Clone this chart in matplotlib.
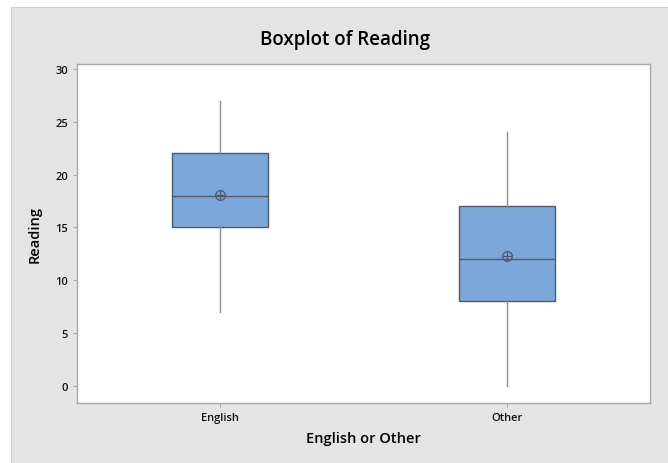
import matplotlib.pyplot as plt
from matplotlib.patches import Rectangle

# data
groups = ["English", "Other"]
whisker_low = [7, 0]
q1 = [15, 8]
medians = [18, 12]
q3 = [22, 17]
whisker_high = [27, 24]
means = [18.05, 12.25]

plt.rcParams['font.family'] = ['Open Sans', 'DejaVu Sans']

fig = plt.figure(figsize=(6.68, 4.64), dpi=100)
fig.patch.set_facecolor('white')
# gray panel behind the chart (runs off the right and bottom edges)
fig.patches.append(Rectangle((11 / 668, -0.1), 1.1, 1.1 - 8 / 464, transform=fig.transFigure,
                             facecolor='#e4e4e4', edgecolor='#d0d0d0', lw=0.8, zorder=-1))

ax = fig.add_axes([77 / 668, 1 - 404 / 464, (650 - 77) / 668, (404 - 65) / 464])

stats = []
for i, g in enumerate(groups):
    stats.append({
        'label': g, 'whislo': whisker_low[i], 'q1': q1[i], 'med': medians[i],
        'q3': q3[i], 'whishi': whisker_high[i], 'mean': means[i], 'fliers': []
    })

pos = list(range(1, len(groups) + 1))
ax.bxp(stats, positions=pos, widths=0.335, patch_artist=True, showcaps=False,
       showmeans=True,
       boxprops=dict(facecolor='#7ba7da', edgecolor='#4f5b6b', lw=1.0),
       medianprops=dict(color='#4f5b6b', lw=1.0),
       whiskerprops=dict(color='#8c8c8c', lw=1.0),
       meanprops=dict(marker='o', markerfacecolor='none', markeredgecolor='#4f5b6b',
                      markersize=7, markeredgewidth=0.9))
ax.plot(pos, means, linestyle='none', marker='+', color='#4f5b6b', markersize=7,
        markeredgewidth=0.9, zorder=5)

ax.set_xlim(0.5, 2.5)
ax.set_ylim(-1.64, 30.47)
ax.set_yticks([0, 5, 10, 15, 20, 25, 30])
ax.set_xticks(pos)
ax.set_xticklabels(groups)

for s in ax.spines.values():
    s.set_color('#a8a8a8')
    s.set_linewidth(1.0)
ax.tick_params(colors='#a8a8a8', labelcolor='#111111', labelsize=8, length=3, width=0.8)
for lbl in ax.get_xticklabels() + ax.get_yticklabels():
    lbl.set_fontweight('semibold')

fig.text(345 / 668, 1 - 40 / 464, "Boxplot of Reading", fontsize=13.5, fontweight='semibold',
         ha='center', va='center')
ax.set_xlabel("English or Other", fontsize=10.5, fontweight='semibold', labelpad=6)
ax.set_ylabel("Reading", fontsize=10.5, fontweight='semibold', labelpad=10)

fig.savefig("out.png", dpi=100)
